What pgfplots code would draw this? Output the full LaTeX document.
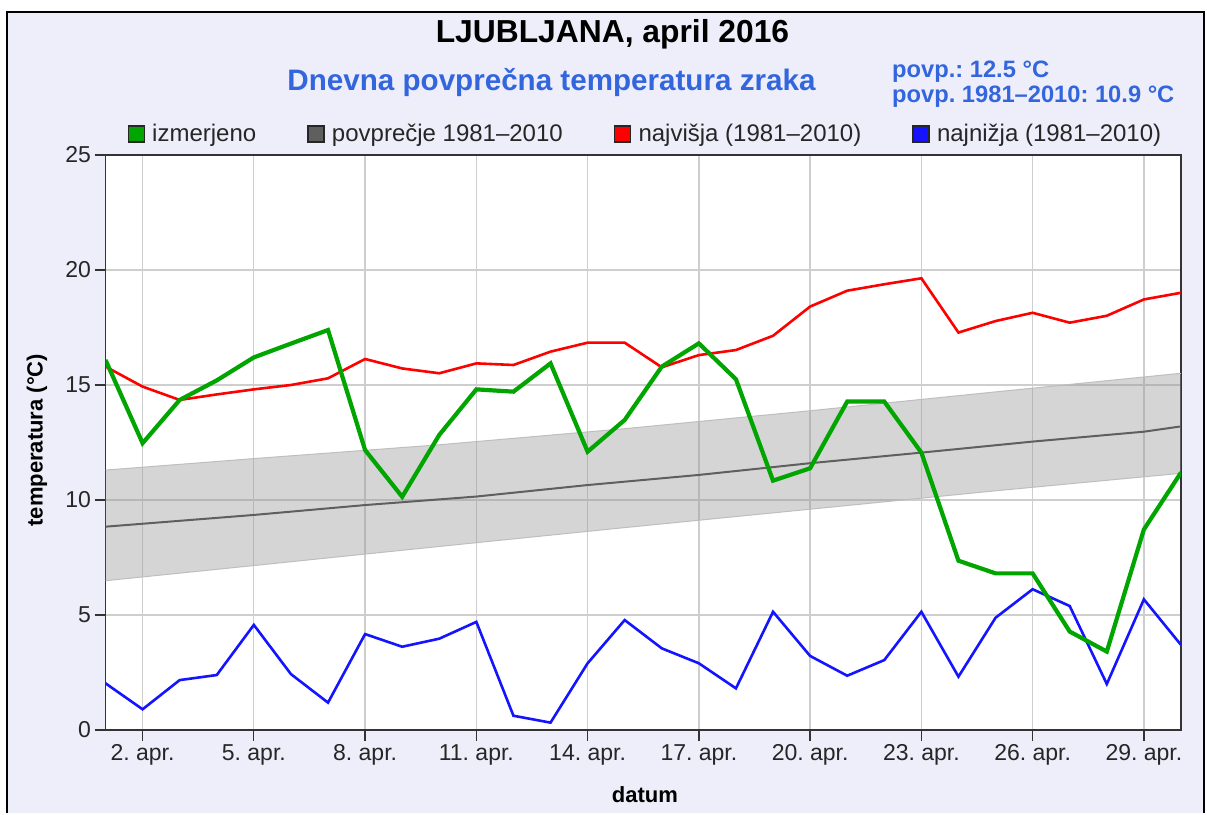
\documentclass[border=0pt]{standalone}
\usepackage{fontspec}
\setmainfont{Liberation Sans}
\usepackage{pgfplots}
\usepackage{pgfplotstable}
\pgfplotsset{compat=1.18}
\frenchspacing
\definecolor{bg}{RGB}{238,238,250}
\definecolor{tblue}{RGB}{51,102,221}
\definecolor{lgreen}{RGB}{0,165,0}
\definecolor{lred}{RGB}{255,0,0}
\definecolor{lblue}{RGB}{20,20,255}
\definecolor{lavg}{RGB}{95,95,95}
\definecolor{gridgray}{RGB}{206,206,206}
\definecolor{axisgray}{RGB}{51,51,51}
\definecolor{bandedge}{RGB}{190,190,190}

\pgfplotstableread{
day izm max min
1 16.09 15.80 2.03
2 12.47 14.93 0.90
3 14.35 14.35 2.17
4 15.20 14.59 2.39
5 16.20 14.81 4.57
6 16.80 15.00 2.43
7 17.39 15.29 1.19
8 12.17 16.13 4.17
9 10.14 15.72 3.62
10 12.83 15.51 3.97
11 14.81 15.94 4.70
12 14.71 15.87 0.62
13 15.94 16.45 0.32
14 12.10 16.84 2.90
15 13.48 16.84 4.78
16 15.80 15.77 3.55
17 16.81 16.30 2.90
18 15.25 16.52 1.81
19 10.84 17.14 5.14
20 11.38 18.41 3.22
21 14.28 19.10 2.36
22 14.28 19.38 3.04
23 12.06 19.64 5.14
24 7.36 17.28 2.32
25 6.81 17.78 4.88
26 6.81 18.14 6.12
27 4.28 17.71 5.39
28 3.41 18.01 2.00
29 8.72 18.72 5.68
30 11.19 19.01 3.70
}\daily

\pgfplotstableread{
day avg
1 8.84
5 9.35
8 9.78
11 10.15
14 10.65
17 11.09
20 11.60
23 12.06
26 12.54
29 12.97
30 13.20
}\avgtab

% band outline: upper edge forward, lower edge backward
\pgfplotstableread{
day t
1 11.30
5 11.80
10 12.40
15 13.10
20 13.88
25 14.70
30 15.51
30 11.16
25 10.40
20 9.60
15 8.80
10 7.98
5 7.15
1 6.49
}\bandtab

\pgfplotstableread{
day up lo
1 11.30 6.49
5 11.80 7.15
10 12.40 7.98
15 13.10 8.80
20 13.88 9.60
25 14.70 10.40
30 15.51 11.16
}\bandedges

\begin{document}
\begin{tikzpicture}
\fill[white] (0pt,0pt) rectangle (1207pt,813pt);
\fill[bg] (7pt,0pt) rectangle (1204pt,801pt);
\draw[line width=2pt, black] (7pt,0pt) -- (7pt,801pt) -- (1204pt,801pt) -- (1204pt,0pt);
\node[font=\fontsize{31.8}{36}\selectfont\bfseries] at (612.5pt,779pt) {LJUBLJANA, april 2016};
\node[font=\fontsize{29.6}{34}\selectfont\bfseries, text=tblue] at (551.5pt,730pt) {Dnevna povprečna temperatura zraka};
\node[anchor=west, font=\fontsize{23.7}{28}\selectfont\bfseries, text=tblue, inner sep=0pt] at (892pt,741pt) {povp.: 12.5 °C};
\node[anchor=west, font=\fontsize{23.7}{28}\selectfont\bfseries, text=tblue, inner sep=0pt] at (892pt,716pt) {povp. 1981–2010: 10.9 °C};
\begin{axis}[
  at={(105.5pt,83pt)}, anchor=south west,
  scale only axis, width=1075.5pt, height=575pt,
  axis background/.style={fill=white},
  xmin=1, xmax=30, ymin=0, ymax=25,
  xtick={2,5,...,29},
  xticklabels={2. apr.,5. apr.,8. apr.,11. apr.,14. apr.,17. apr.,20. apr.,23. apr.,26. apr.,29. apr.},
  ytick={0,5,...,25},
  grid=major,
  major grid style={color=gridgray, line width=1.3pt},
  axis line style={color=axisgray, line width=1.6pt},
  tick style={color=axisgray, line width=1.3pt},
  major tick length=11pt, tick align=outside,
  xtick pos=left, ytick pos=left,
  ticklabel style={font=\fontsize{23}{27}\selectfont, text=black!85},
  /pgf/number format/assume math mode=true,
  xlabel={datum}, ylabel={temperatura (°C)},
  label style={font=\bfseries\fontsize{22}{26}\selectfont},
  x label style={at={(axis description cs:0.5016,-0.113)}, anchor=center},
  y label style={at={(axis description cs:-0.0637,0.504)}, anchor=center},
  legend style={at={(axis description cs:0.502,1.0365)}, anchor=center,
    draw=none, fill=none, legend columns=4,
    font=\fontsize{24}{28}\selectfont, text=black!85,
    /tikz/every even column/.append style={column sep=49pt}},
  legend cell align=left,
  legend image code/.code={\draw[#1,draw=black!85,line width=1.4pt] (0pt,-8pt) rectangle (16pt,8pt);\path[draw=none,fill=none] (0pt,0pt) -- (22pt,0pt);},
]
\addlegendimage{fill=lgreen}\addlegendentry{izmerjeno}
\addlegendimage{fill=lavg}\addlegendentry{povprečje 1981–2010}
\addlegendimage{fill=lred}\addlegendentry{najvišja (1981–2010)}
\addlegendimage{fill=lblue}\addlegendentry{najnižja (1981–2010)}

\addplot[fill=black!41, fill opacity=0.4, draw=none, forget plot] table[x=day,y=t] {\bandtab} -- cycle;
\addplot[draw=bandedge, line width=1pt, forget plot] table[x=day,y=up] {\bandedges};
\addplot[draw=bandedge, line width=1pt, forget plot] table[x=day,y=lo] {\bandedges};
\addplot[lavg, line width=2pt, forget plot] table[x=day,y=avg] {\avgtab};
\addplot[lred, line width=2.6pt, forget plot] table[x=day,y=max] {\daily};
\addplot[lblue, line width=2.6pt, forget plot] table[x=day,y=min] {\daily};
\addplot[lgreen, line width=4.2pt, forget plot] table[x=day,y=izm] {\daily};
\end{axis}
\end{tikzpicture}
\end{document}
